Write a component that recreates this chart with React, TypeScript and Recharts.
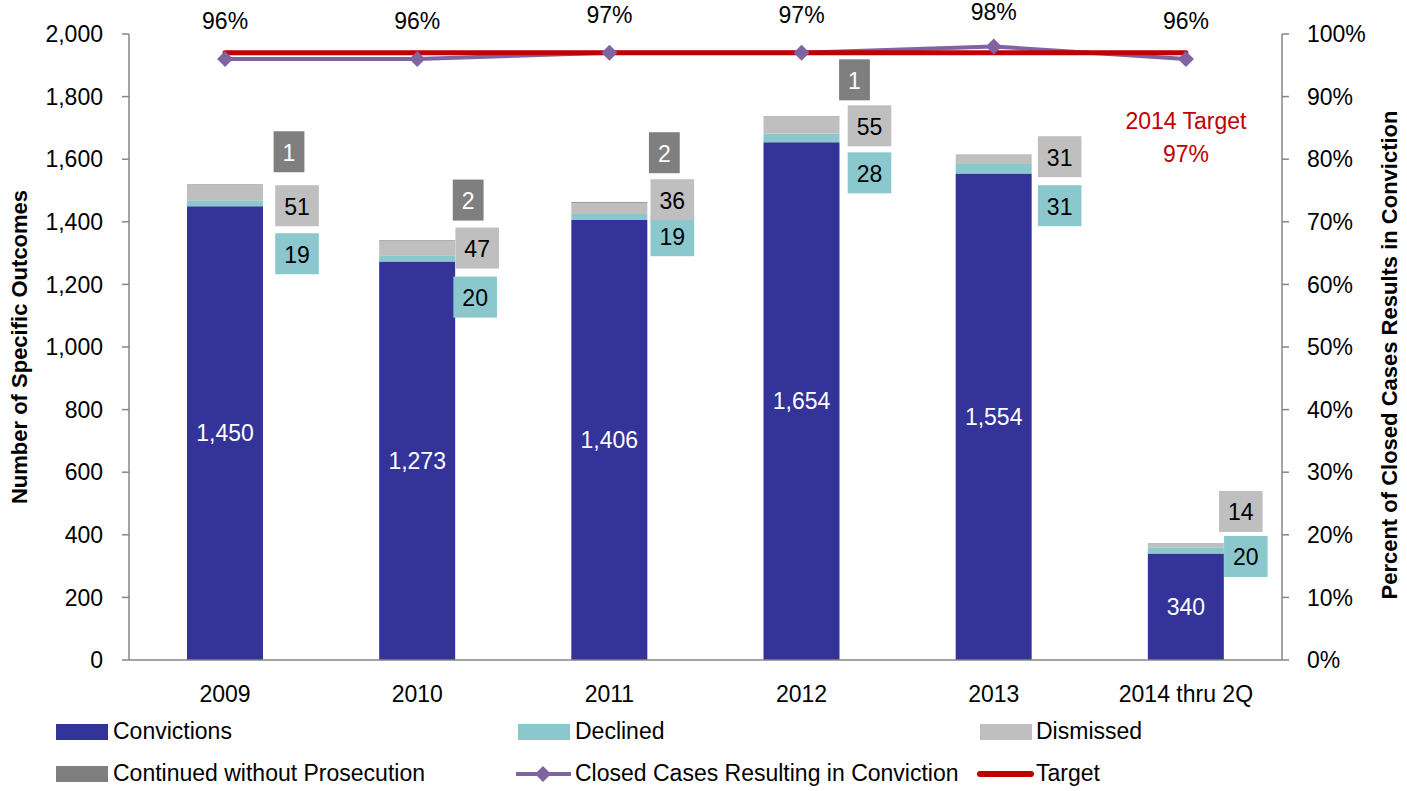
import React from 'react';
import { ComposedChart, Bar, Line, XAxis, YAxis, LabelList, ReferenceDot } from 'recharts';

const categories = ['2009', '2010', '2011', '2012', '2013', '2014 thru 2Q'];
const convictions = [1450, 1273, 1406, 1654, 1554, 340];
const declined = [19, 20, 19, 28, 31, 20];
const dismissed = [51, 47, 36, 55, 31, 14];
const continued = [1, 2, 2, 1, 0, 0];
const closedPct = [0.96, 0.96, 0.97, 0.97, 0.98, 0.96];
const targetPct = [0.97, 0.97, 0.97, 0.97, 0.97, 0.97];
const leftTicks = [0, 200, 400, 600, 800, 1000, 1200, 1400, 1600, 1800, 2000];
const rightTicks = [0, 0.1, 0.2, 0.3, 0.4, 0.5, 0.6, 0.7, 0.8, 0.9, 1];
const boundaryTicks = [0, 1, 2, 3, 4, 5, 6];
const targetNote = ['2014 Target', '97%'];
const targetNoteLevel = 0.835;

// layout only: label box centre offsets (dx from bar right edge, dy from stack top)
const boxLayout: any[] = [
  { decl: [34, 69.5], dism: [34, 21.5], cont: [26, -32.5] },
  { decl: [20, 56.5], dism: [22, 7.5], cont: [13, -40.5] },
  { decl: [25, 33], dism: [25, -3], cont: [17, -50] },
  { decl: [30, 56.5], dism: [30, 9.5], cont: [15, -36.5] },
  { decl: [28, 51.5], dism: [28, 2.5], cont: null },
  { decl: [22, 13.5], dism: [17, -31.5], cont: null },
];

const C_CONV = '#333399';
const C_DECL = '#8BC8CE';
const C_DISM = '#BFBFBF';
const C_CONT = '#7F7F7F';
const C_CLOSED = '#8064A2';
const C_TARGET = '#C00000';
const AXIS = '#868686';
const FONT = '"Liberation Sans", Arial, sans-serif';
const FS = 23;

const data = categories.map((c, i) => ({
  year: c,
  convictions: convictions[i],
  declined: declined[i],
  dismissed: dismissed[i],
  continued: continued[i],
  closed: closedPct[i],
  target: targetPct[i],
}));

const fmtNum = (v: number) => v.toLocaleString('en-US');
const fmtPct = (v: number) => `${Math.round(v * 100)}%`;

const Box = ({ cx, cy, value, fill, color }: any) => {
  const s = String(value);
  const w = s.length * 12.8 + 18;
  const h = 41;
  return (
    <g>
      <rect x={cx - w / 2} y={cy - h / 2} width={w} height={h} fill={fill} />
      <text x={cx} y={cy + 1} textAnchor="middle" dominantBaseline="central" fontSize={FS} fill={color}>
        {s}
      </text>
    </g>
  );
};

const renderBoxes = (props: any) => {
  const index = props.index;
  const vb = props.viewBox ?? props;
  const x = vb.x ?? props.x;
  const y = vb.y ?? props.y;
  const w = vb.width ?? props.width;
  const right = x + w;
  const L = boxLayout[index];
  if (!L) return null;
  return (
    <g key={`boxes-${index}`}>
      <Box cx={right + L.decl[0]} cy={y + L.decl[1]} value={declined[index]} fill={C_DECL} color="#000" />
      <Box cx={right + L.dism[0]} cy={y + L.dism[1]} value={dismissed[index]} fill={C_DISM} color="#000" />
      {L.cont && continued[index] > 0 ? (
        <Box cx={right + L.cont[0]} cy={y + L.cont[1]} value={continued[index]} fill={C_CONT} color="#fff" />
      ) : null}
    </g>
  );
};

const renderPctLabel = (props: any) => {
  const vb = props.viewBox ?? {};
  const x = props.x ?? vb.x;
  const y = props.y ?? vb.y;
  return (
    <text key={`pct-${props.index}`} x={x} y={Math.max(y - 38, 12)} textAnchor="middle" dominantBaseline="central" fontSize={FS} fill="#000">
      {fmtPct(props.value)}
    </text>
  );
};

const Diamond = (props: any) => {
  const { cx, cy } = props;
  if (cx == null || cy == null) return null;
  const r = 8;
  return <polygon points={`${cx},${cy - r} ${cx + r},${cy} ${cx},${cy + r} ${cx - r},${cy}`} fill={C_CLOSED} />;
};

const LeftTitle = (props: any) => {
  const vb = props.viewBox;
  const cx = vb.x - 20;
  const cy = vb.y + vb.height / 2;
  return (
    <text x={cx} y={cy} transform={`rotate(-90 ${cx} ${cy})`} textAnchor="middle" dominantBaseline="central" fontWeight="bold" fontSize={22} fill="#000">
      Number of Specific Outcomes
    </text>
  );
};

const RightTitle = (props: any) => {
  const vb = props.viewBox;
  const cx = vb.x + 107;
  const cy = vb.y + vb.height / 2 + 8;
  return (
    <text x={cx} y={cy} transform={`rotate(-90 ${cx} ${cy})`} textAnchor="middle" dominantBaseline="central" fontWeight="bold" fontSize={22} fill="#000">
      Percent of Closed Cases Results in Conviction
    </text>
  );
};

const TargetNote = (props: any) => {
  const vb = props.viewBox;
  const cx = vb.x + (vb.width || 0) / 2;
  const cy = vb.y + (vb.height || 0) / 2;
  return (
    <g>
      <text x={cx} y={cy - 16} textAnchor="middle" dominantBaseline="central" fontSize={FS} fill={C_TARGET}>
        {targetNote[0]}
      </text>
      <text x={cx} y={cy + 17} textAnchor="middle" dominantBaseline="central" fontSize={FS} fill={C_TARGET}>
        {targetNote[1]}
      </text>
    </g>
  );
};

const legendRows = [
  [
    { label: 'Convictions', kind: 'rect', color: C_CONV, x: 56, tx: 113 },
    { label: 'Declined', kind: 'rect', color: C_DECL, x: 518, tx: 575 },
    { label: 'Dismissed', kind: 'rect', color: C_DISM, x: 980, tx: 1036 },
  ],
  [
    { label: 'Continued without Prosecution', kind: 'rect', color: C_CONT, x: 56, tx: 113 },
    { label: 'Closed Cases Resulting in Conviction', kind: 'diamond', color: C_CLOSED, x: 515, tx: 575 },
    { label: 'Target', kind: 'line', color: C_TARGET, x: 977, tx: 1036 },
  ],
];
const legendRowY = [731, 773];

const Legend = () => (
  <>
    {legendRows.map((row, ri) =>
      row.map((it) => {
        const cy = legendRowY[ri];
        return (
          <React.Fragment key={it.label}>
            <svg style={{ position: 'absolute', left: it.x, top: cy - 10 }} width={58} height={22}>
              {it.kind === 'rect' && <rect x={0} y={3} width={52} height={16} fill={it.color} />}
              {it.kind === 'diamond' && (
                <g>
                  <line x1={1} y1={11} x2={56} y2={11} stroke={it.color} strokeWidth={4} />
                  <polygon points="28,3 36,11 28,19 20,11" fill={it.color} />
                </g>
              )}
              {it.kind === 'line' && <line x1={3} y1={11} x2={54} y2={11} stroke={it.color} strokeWidth={6} strokeLinecap="round" />}
            </svg>
            <div style={{ position: 'absolute', left: it.tx, top: cy - 14, fontSize: FS, lineHeight: '28px', color: '#000', whiteSpace: 'nowrap' }}>
              {it.label}
            </div>
          </React.Fragment>
        );
      })
    )}
  </>
);

export default function App() {
  return (
    <div style={{ position: 'absolute', left: 0, top: 0, width: 1407, height: 791, fontFamily: FONT, background: '#fff' }}>
      <ComposedChart width={1407} height={791} data={data} margin={{ top: 34, right: 35, bottom: 90, left: 39 }} barSize={76}>
        <XAxis
          xAxisId="bounds"
          type="number"
          domain={[0, 6]}
          ticks={boundaryTicks}
          allowDataOverflow
          interval={0}
          tick={false}
          height={1}
          tickSize={7}
          stroke={AXIS}
          strokeWidth={1.5}
        />
        <XAxis
          xAxisId="cat"
          dataKey="year"
          axisLine={false}
          tickLine={false}
          tickSize={7}
          tickMargin={18}
          height={40}
          interval={0}
          tick={{ fill: '#000', fontSize: FS }}
        />
        <YAxis
          yAxisId="left"
          domain={[0, 2000]}
          ticks={leftTicks}
          interval={0}
          width={90}
          tickSize={7}
          tickMargin={19}
          stroke={AXIS}
          strokeWidth={1.5}
          tick={{ fill: '#000', fontSize: FS }}
          tickFormatter={fmtNum}
          label={{ content: LeftTitle }}
        />
        <YAxis
          yAxisId="right"
          orientation="right"
          domain={[0, 1]}
          ticks={rightTicks}
          interval={0}
          width={90}
          tickSize={7}
          tickMargin={18}
          stroke={AXIS}
          strokeWidth={1.5}
          tick={{ fill: '#000', fontSize: FS }}
          tickFormatter={fmtPct}
          label={{ content: RightTitle }}
        />
        <Bar xAxisId="cat" yAxisId="left" stackId="s" dataKey="convictions" fill={C_CONV} isAnimationActive={false}>
          <LabelList dataKey="convictions" position="center" fill="#fff" fontSize={FS} formatter={(v: any) => fmtNum(Number(v))} />
        </Bar>
        <Bar xAxisId="cat" yAxisId="left" stackId="s" dataKey="declined" fill={C_DECL} isAnimationActive={false} />
        <Bar xAxisId="cat" yAxisId="left" stackId="s" dataKey="dismissed" fill={C_DISM} isAnimationActive={false}>
          <LabelList dataKey="dismissed" content={renderBoxes} />
        </Bar>
        <Bar xAxisId="cat" yAxisId="left" stackId="s" dataKey="continued" fill={C_CONT} isAnimationActive={false} />
        <Line
          xAxisId="cat"
          yAxisId="right"
          dataKey="closed"
          stroke={C_CLOSED}
          strokeWidth={4}
          dot={<Diamond />}
          activeDot={false}
          isAnimationActive={false}
        >
          <LabelList dataKey="closed" content={renderPctLabel} />
        </Line>
        <Line
          xAxisId="cat"
          yAxisId="right"
          dataKey="target"
          stroke={C_TARGET}
          strokeWidth={5}
          strokeLinecap="round"
          dot={false}
          activeDot={false}
          isAnimationActive={false}
        />
        <ReferenceDot
          xAxisId="cat"
          yAxisId="right"
          x={categories[5]}
          y={targetNoteLevel}
          r={1}
          fill="none"
          stroke="none"
          label={{ content: TargetNote }}
        />
      </ComposedChart>
      <Legend />
    </div>
  );
}
